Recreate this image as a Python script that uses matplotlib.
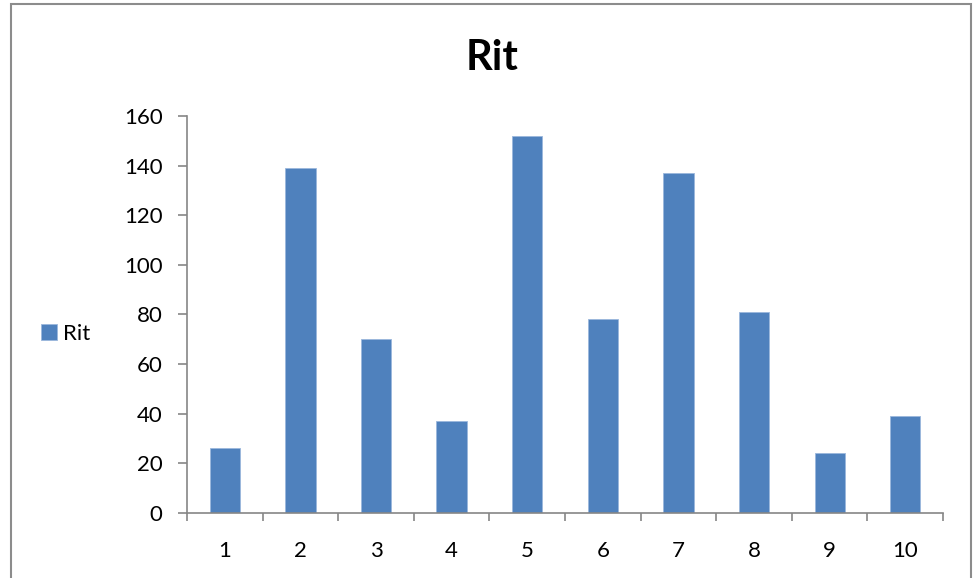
import matplotlib.pyplot as plt
from matplotlib.patches import Rectangle
import numpy as np

plt.rcParams['font.family'] = ['Lato', 'DejaVu Sans']

categories = ['1', '2', '3', '4', '5', '6', '7', '8', '9', '10']
rit_values = [26, 139, 70, 37, 152, 78, 137, 81, 24, 39]
y_ticks = [0, 20, 40, 60, 80, 100, 120, 140, 160]

bar_color = '#4F81BD'
axis_color = '#868686'

fig = plt.figure(figsize=(9.73, 5.78), dpi=100)
ax = fig.add_axes([0.1922, 0.1125, 0.777, 0.6869])

x = np.arange(1, len(categories) + 1)
ax.bar(x, rit_values, width=0.4, color=bar_color, edgecolor='#9BB7DC',
       linewidth=0.6, label='Rit', zorder=2)

ax.set_xlim(0.5, len(categories) + 0.5)
ax.set_ylim(0, 160)
ax.set_yticks(y_ticks)
ax.set_yticklabels([str(v) for v in y_ticks], fontsize=16)

# category labels in the middle, tick marks on the boundaries
ax.set_xticks(x)
ax.set_xticklabels(categories, fontsize=16)
ax.tick_params(axis='x', which='major', length=0, pad=20)
ax.set_xticks(np.arange(0.5, len(categories) + 1), minor=True)
ax.tick_params(axis='x', which='minor', length=6, width=1.2, color=axis_color, direction='out')
ax.tick_params(axis='y', length=6.5, width=1.2, color=axis_color, direction='out', pad=11)

for side in ['top', 'right']:
    ax.spines[side].set_visible(False)
for side in ['left', 'bottom']:
    ax.spines[side].set_color(axis_color)
    ax.spines[side].set_linewidth(1.2)

fig.text(0.5057, 0.899, 'Rit', ha='center', va='center', fontsize=30, fontweight='bold')

fig.legend(loc='center left', bbox_to_anchor=(0.0421, 0.4221), frameon=False,
           fontsize=16, borderpad=0, borderaxespad=0,
           handlelength=0.7, handleheight=0.7, handletextpad=0.3)

# outer chart frame
fig.patches.append(Rectangle((11 / 973, -0.05), 960 / 973, 1 - 4 / 578 + 0.05,
                             transform=fig.transFigure, fill=False,
                             edgecolor='#8C8C8C', linewidth=1.5, clip_on=False))

plt.savefig('out.png', dpi=100)
